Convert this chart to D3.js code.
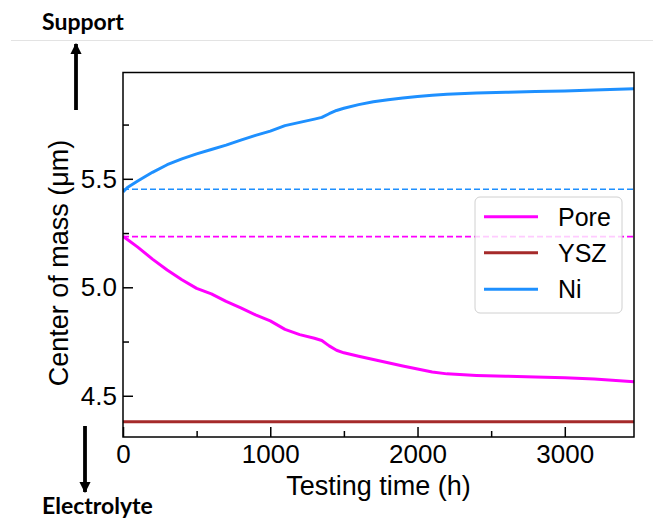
<!DOCTYPE html>
<html><head><meta charset="utf-8">
<script src="https://cdn.jsdelivr.net/npm/d3@7"></script>
<style>body{margin:0;background:#fff}svg{display:block}</style>
</head><body>
<script>
// ---- data ----
const timeH = [0,30,100,200,300,400,500,600,700,800,900,1000,1100,1200,1300,1350,1400,1450,1500,1600,1700,1800,1900,2000,2100,2200,2400,2600,2800,3000,3200,3470];
const niCOM = [5.44,5.46,5.49,5.53,5.565,5.592,5.615,5.635,5.655,5.678,5.70,5.72,5.745,5.76,5.775,5.783,5.80,5.815,5.825,5.842,5.855,5.864,5.872,5.879,5.885,5.89,5.895,5.899,5.902,5.905,5.909,5.915];
const poreCOM = [5.234,5.22,5.185,5.13,5.08,5.035,4.995,4.97,4.935,4.905,4.873,4.845,4.806,4.782,4.765,4.755,4.73,4.71,4.698,4.682,4.667,4.652,4.637,4.623,4.61,4.601,4.594,4.59,4.587,4.583,4.577,4.565];
const yszTime = [0,3470];
const yszCOM = [4.38,4.38];
const poreInitial = 5.234;
const niInitial = 5.452;
const seriesNames = ["Pore","YSZ","Ni"];
const xMajorTicks = [0,1000,2000,3000];
const xMinorTicks = [500,1500,2500];
const yMajorTicks = [4.5,5.0,5.5];
const yMinorTicks = [4.75,5.25,5.75];
const xDomain = [0,3470];
const yDomain = [4.31,5.99];

const colors = {Pore:"#ff00ff", YSZ:"#a52a2a", Ni:"#1e90ff"};

const W=653,H=521;
const L=123,R=634,T=72.5,B=437;
const svg=d3.select("body").append("svg").attr("width",W).attr("height",H);
const x=d3.scaleLinear().domain(xDomain).range([L,R]);
const y=d3.scaleLinear().domain(yDomain).range([B,T]);

// top gray separator
svg.append("line").attr("x1",11).attr("x2",W).attr("y1",40.5).attr("y2",40.5).attr("stroke","#e3e3e3").attr("stroke-width",1);

svg.append("defs").append("clipPath").attr("id","clip").append("rect").attr("x",L).attr("y",T).attr("width",R-L).attr("height",B-T);

const g=svg.append("g").attr("clip-path","url(#clip)");
// dashed references
[[niInitial,"Ni"],[poreInitial,"Pore"]].forEach(([v,n])=>{
  g.append("line").attr("x1",x(xDomain[0])).attr("x2",x(xDomain[1])).attr("y1",y(v)).attr("y2",y(v))
   .attr("stroke",colors[n]).attr("stroke-width",1.7).attr("stroke-dasharray","6,3");
});
const line=d3.line().x(d=>x(d[0])).y(d=>y(d[1]));
const series=[
  {name:"YSZ",pts:yszTime.map((t,i)=>[t,yszCOM[i]])},
  {name:"Pore",pts:timeH.map((t,i)=>[t,poreCOM[i]])},
  {name:"Ni",pts:timeH.map((t,i)=>[t,niCOM[i]])}
];
series.forEach(s=>{
  g.append("path").attr("d",line(s.pts)).attr("fill","none").attr("stroke",colors[s.name])
   .attr("stroke-width",3).attr("stroke-linejoin","round").attr("stroke-linecap","butt");
});

// frame
svg.append("rect").attr("x",L).attr("y",T).attr("width",R-L).attr("height",B-T).attr("fill","none").attr("stroke","#000").attr("stroke-width",1.5);

// axes with inward ticks
const font="'Liberation Sans', Arial, sans-serif";
const xAx=svg.append("g").attr("transform",`translate(0,${B})`)
  .call(d3.axisBottom(x).tickValues(xMajorTicks).tickSizeInner(-10).tickSizeOuter(0).tickPadding(8).tickFormat(d3.format("d")));
xAx.append("g").call(d3.axisBottom(x).tickValues(xMinorTicks).tickSizeInner(-6).tickSizeOuter(0).tickFormat(""));
const yAx=svg.append("g").attr("transform",`translate(${L},0)`)
  .call(d3.axisLeft(y).tickValues(yMajorTicks).tickSizeInner(-10).tickSizeOuter(0).tickPadding(6).tickFormat(d3.format(".1f")));
yAx.append("g").call(d3.axisLeft(y).tickValues(yMinorTicks).tickSizeInner(-6).tickSizeOuter(0).tickFormat(""));
svg.selectAll(".domain").remove();
svg.selectAll(".tick line").attr("stroke","#000").attr("stroke-width",1.5);
svg.selectAll(".tick text").attr("font-family",font).attr("font-size",26).attr("fill","#000");

// axis labels
svg.append("text").attr("x",(L+R)/2).attr("y",495).attr("text-anchor","middle")
  .attr("font-family",font).attr("font-size",27).text("Testing time (h)");
svg.append("text").attr("transform",`translate(68,263) rotate(-90)`).attr("text-anchor","middle")
  .attr("font-family",font).attr("font-size",27).text("Center of mass (μm)");

// legend
const lg=svg.append("g");
lg.append("rect").attr("x",475).attr("y",197).attr("width",147).attr("height",116).attr("rx",5)
  .attr("fill","#fff").attr("fill-opacity",0.8).attr("stroke","#d0d0d0").attr("stroke-width",1);
const ly=[216.7,252.7,289.3];
seriesNames.forEach((n,i)=>{
  lg.append("line").attr("x1",484).attr("x2",538).attr("y1",ly[i]).attr("y2",ly[i]).attr("stroke",colors[n]).attr("stroke-width",3);
  lg.append("text").attr("x",558).attr("y",ly[i]+9).attr("font-family",font).attr("font-size",25).text(n);
});

// arrows and side labels
const bfont="Lato, 'Open Sans', sans-serif";
svg.append("defs").html('<marker id="ah" viewBox="0 0 10 10" refX="9" refY="5" markerWidth="3" markerHeight="3" orient="auto"><path d="M0,0 L10,5 L0,10 z" fill="#000"/></marker>');
svg.append("line").attr("x1",76).attr("x2",76).attr("y1",110).attr("y2",44).attr("stroke","#000").attr("stroke-width",3.8).attr("marker-end","url(#ah)");
svg.append("line").attr("x1",85).attr("x2",85).attr("y1",426).attr("y2",492).attr("stroke","#000").attr("stroke-width",3.8).attr("marker-end","url(#ah)");
svg.append("text").attr("x",42).attr("y",29.5).attr("font-family",bfont).attr("font-weight","bold").attr("font-size",23).text("Support");
svg.append("text").attr("x",42).attr("y",513.5).attr("font-family",bfont).attr("font-weight","bold").attr("font-size",23).text("Electrolyte");
</script>
</body></html>
